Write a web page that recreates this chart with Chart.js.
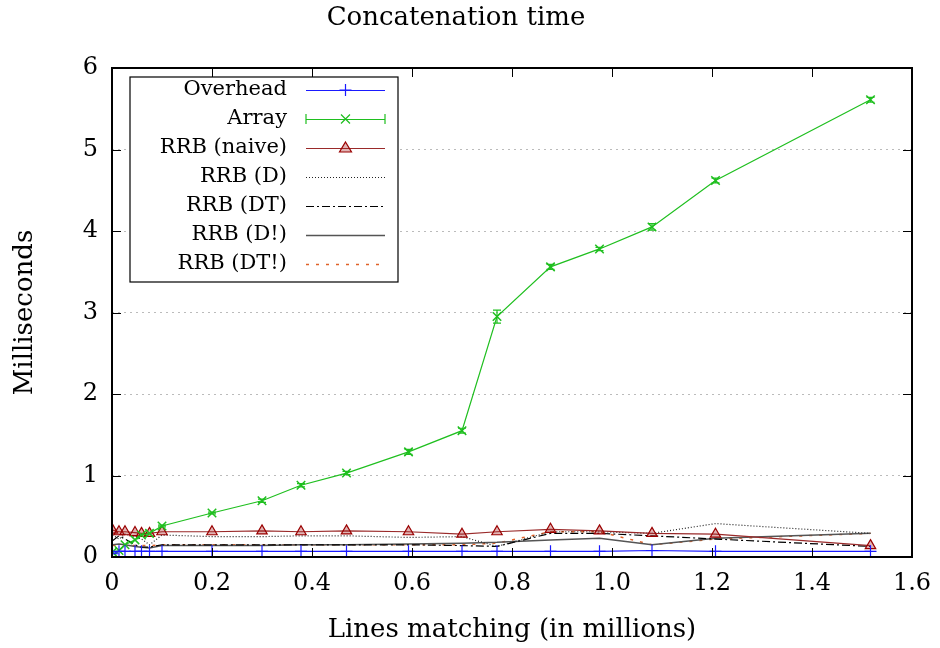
<!DOCTYPE html>
<html>
<head>
<meta charset="utf-8">
<script src="https://cdn.jsdelivr.net/npm/chart.js@4/dist/chart.umd.min.js"></script>
<style>
  html, body { margin: 0; padding: 0; background: #fff; }
</style>
</head>
<body>
<canvas id="chart" width="940" height="648"></canvas>
<script>
// lines matching, in millions
const linesMatching = [0.001, 0.014, 0.026, 0.046, 0.059, 0.075, 0.1, 0.2, 0.3, 0.378, 0.469, 0.593, 0.70, 0.77, 0.877, 0.975, 1.08, 1.207, 1.517];

// milliseconds per series
const overhead = [0.04, 0.07, 0.07, 0.07, 0.07, 0.07, 0.07, 0.07, 0.07, 0.07, 0.07, 0.07, 0.07, 0.07, 0.07, 0.07, 0.08, 0.07, 0.07];
const arrayTime = [0.06, 0.08, 0.15, 0.21, 0.27, 0.29, 0.38, 0.54, 0.69, 0.88, 1.03, 1.29, 1.55, 2.95, 3.56, 3.78, 4.05, 4.62, 5.61];
const arrayErr = [0, 0, 0, 0, 0, 0, 0.01, 0.01, 0.02, 0.02, 0.02, 0.03, 0.03, 0.08, 0.03, 0.02, 0.04, 0.03, 0.03];
const rrbNaive = [0.33, 0.31, 0.31, 0.30, 0.29, 0.29, 0.31, 0.31, 0.32, 0.31, 0.32, 0.31, 0.28, 0.31, 0.34, 0.32, 0.29, 0.28, 0.14];
const rrbD = [0.27, 0.22, 0.28, 0.25, 0.22, 0.15, 0.27, 0.25, 0.25, 0.26, 0.26, 0.24, 0.25, 0.13, 0.31, 0.31, 0.29, 0.41, 0.29];
const rrbDT = [0.20, 0.26, 0.22, 0.15, 0.12, 0.12, 0.15, 0.15, 0.15, 0.15, 0.15, 0.15, 0.14, 0.13, 0.29, 0.29, 0.26, 0.22, 0.13];
const rrbDbang = [0.15, 0.16, 0.15, 0.13, 0.12, 0.11, 0.14, 0.14, 0.14, 0.15, 0.15, 0.16, 0.17, 0.18, 0.21, 0.23, 0.15, 0.23, 0.29];
const rrbDTbang = [0.14, 0.15, 0.15, 0.14, 0.14, 0.14, 0.15, 0.15, 0.15, 0.15, 0.15, 0.15, 0.15, 0.17, 0.31, 0.31, 0.15, 0.22, 0.29];

const xTicks = [0, 0.2, 0.4, 0.6, 0.8, 1, 1.2, 1.4, 1.6];
const yTicks = [0, 1, 2, 3, 4, 5, 6];

const FONT = "'DejaVu Serif', serif";

function pts(ys) {
  return ys.map((y, i) => ({ x: linesMatching[i], y: y }));
}

function series(label, ys, opts) {
  return Object.assign({
    label: label,
    data: pts(ys),
    showLine: true,
    fill: false,
    borderWidth: 1.2,
    pointRadius: 0,
    pointHoverRadius: 0,
    tension: 0,
  }, opts);
}

const datasets = [
  series("Overhead", overhead, { borderColor: "#1a1aff", pointStyle: "cross", pointRadius: 6, pointBorderColor: "#1a1aff", pointBorderWidth: 1.2 }),
  series("Array", arrayTime, { borderColor: "#1fbf1f", pointStyle: "crossRot", pointRadius: 6, pointBorderColor: "#1fbf1f", pointBorderWidth: 1.5, errors: arrayErr }),
  series("RRB (naive)", rrbNaive, { borderColor: "#9a2a2a", pointStyle: "triangle", pointRadius: 6, pointBorderColor: "#9a0000", pointBackgroundColor: "rgba(170,40,40,0.35)", pointBorderWidth: 1.2 }),
  series("RRB (D)", rrbD, { borderColor: "#222", borderDash: [1, 2], borderWidth: 1.2 }),
  series("RRB (DT)", rrbDT, { borderColor: "#000", borderDash: [8, 3, 2, 3], borderWidth: 1.2 }),
  series("RRB (D!)", rrbDbang, { borderColor: "#555", borderWidth: 1.5 }),
  series("RRB (DT!)", rrbDTbang, { borderColor: "#e0632a", borderDash: [3, 7], borderWidth: 1.5 }),
];

// error bars for series that carry an errors array
const errorBars = {
  id: "errorBars",
  afterDatasetsDraw(chart) {
    const ctx = chart.ctx;
    const xs = chart.scales.x, ys = chart.scales.y;
    chart.data.datasets.forEach((ds) => {
      if (!ds.errors) return;
      ctx.save();
      ctx.strokeStyle = ds.borderColor;
      ctx.lineWidth = 1.2;
      ds.data.forEach((p, i) => {
        const e = ds.errors[i];
        if (!e) return;
        const px = xs.getPixelForValue(p.x);
        const y1 = ys.getPixelForValue(p.y - e), y2 = ys.getPixelForValue(p.y + e);
        ctx.beginPath();
        ctx.moveTo(px, y1); ctx.lineTo(px, y2);
        ctx.moveTo(px - 4, y1); ctx.lineTo(px + 4, y1);
        ctx.moveTo(px - 4, y2); ctx.lineTo(px + 4, y2);
        ctx.stroke();
      });
      ctx.restore();
    });
  }
};

// gnuplot style border with inward ticks on all sides
const frame = {
  id: "frame",
  afterDatasetsDraw(chart) {
    const ctx = chart.ctx, a = chart.chartArea;
    const xs = chart.scales.x, ys = chart.scales.y;
    ctx.save();
    ctx.strokeStyle = "#000";
    ctx.lineWidth = 1;
    ctx.beginPath();
    xTicks.forEach((v) => {
      const px = Math.round(xs.getPixelForValue(v)) + 0.5;
      ctx.moveTo(px, a.bottom); ctx.lineTo(px, a.bottom - 9);
      ctx.moveTo(px, a.top); ctx.lineTo(px, a.top + 9);
    });
    yTicks.forEach((v) => {
      const py = Math.round(ys.getPixelForValue(v)) + 0.5;
      ctx.moveTo(a.left, py); ctx.lineTo(a.left + 9, py);
      ctx.moveTo(a.right, py); ctx.lineTo(a.right - 9, py);
    });
    ctx.stroke();
    ctx.lineWidth = 2;
    ctx.strokeRect(a.left, a.top, a.right - a.left, a.bottom - a.top);
    ctx.restore();
  }
};

// legend box: text on the left, sample on the right
const keyBox = {
  id: "keyBox",
  afterDraw(chart) {
    const ctx = chart.ctx, a = chart.chartArea;
    const bx = a.left + 18, by = a.top + 9, bw = 268, bh = 205;
    ctx.save();
    ctx.fillStyle = "#fff";
    ctx.fillRect(bx, by, bw, bh);
    ctx.strokeStyle = "#000";
    ctx.lineWidth = 1.2;
    ctx.strokeRect(bx, by, bw, bh);
    ctx.font = "21px " + FONT;
    ctx.textAlign = "right";
    ctx.textBaseline = "middle";
    chart.data.datasets.forEach((ds, i) => {
      const cy = a.top + 22 + i * 29;
      ctx.fillStyle = "#000";
      ctx.fillText(ds.label, a.left + 175, cy);
      const x1 = a.left + 194, x2 = a.left + 273, xm = (x1 + x2) / 2;
      ctx.strokeStyle = ds.borderColor;
      ctx.lineWidth = ds.borderWidth;
      ctx.setLineDash(ds.borderDash || []);
      ctx.beginPath();
      ctx.moveTo(x1, cy + 0.5); ctx.lineTo(x2, cy + 0.5);
      ctx.stroke();
      ctx.setLineDash([]);
      ctx.beginPath();
      if (ds.errors) {
        ctx.moveTo(x1, cy - 5); ctx.lineTo(x1, cy + 5);
        ctx.moveTo(x2, cy - 5); ctx.lineTo(x2, cy + 5);
      }
      if (ds.pointStyle === "cross") {
        ctx.moveTo(xm - 6, cy); ctx.lineTo(xm + 6, cy);
        ctx.moveTo(xm, cy - 6); ctx.lineTo(xm, cy + 6);
      } else if (ds.pointStyle === "crossRot") {
        ctx.moveTo(xm - 4.5, cy - 4.5); ctx.lineTo(xm + 4.5, cy + 4.5);
        ctx.moveTo(xm - 4.5, cy + 4.5); ctx.lineTo(xm + 4.5, cy - 4.5);
      }
      ctx.stroke();
      if (ds.pointStyle === "triangle") {
        ctx.beginPath();
        ctx.moveTo(xm, cy - 6); ctx.lineTo(xm + 6, cy + 4); ctx.lineTo(xm - 6, cy + 4);
        ctx.closePath();
        ctx.fillStyle = ds.pointBackgroundColor;
        ctx.fill();
        ctx.strokeStyle = ds.pointBorderColor;
        ctx.stroke();
      }
    });
    ctx.restore();
  }
};

new Chart(document.getElementById("chart"), {
  type: "scatter",
  data: { datasets: datasets },
  options: {
    responsive: false,
    animation: false,
    layout: { padding: { left: 0, right: 28, top: 0, bottom: 0 } },
    plugins: {
      legend: { display: false },
      tooltip: { enabled: false },
      title: {
        display: true,
        text: "Concatenation time",
        color: "#000",
        font: { family: FONT, size: 26, weight: "normal" },
        padding: { top: 2.4, bottom: 34.4 },
      },
    },
    scales: {
      x: {
        type: "linear",
        min: 0,
        max: 1.6,
        afterBuildTicks(scale) { scale.ticks = xTicks.map((v) => ({ value: v })); },
        afterFit(scale) {
          scale.height = 91;
          scale.paddingLeft = 0;
          scale.paddingRight = 0;
        },
        grid: { display: false, drawTicks: false },
        border: { display: false },
        ticks: { color: "#000", padding: 12, font: { family: FONT, size: 24 } },
        title: {
          display: true,
          text: "Lines matching (in millions)",
          color: "#000",
          font: { family: FONT, size: 26 },
          padding: { top: 0, bottom: 2.4 },
        },
      },
      y: {
        type: "linear",
        min: 0,
        max: 6,
        afterBuildTicks(scale) { scale.ticks = yTicks.map((v) => ({ value: v })); },
        afterFit(scale) {
          scale.width = 112;
          scale.paddingTop = 0;
          scale.paddingBottom = 0;
        },
        grid: { color: "#bbbbbb", lineWidth: 1, drawTicks: false },
        border: { display: false, dash: [2, 4] },
        ticks: { color: "#000", padding: 14, font: { family: FONT, size: 24 } },
        title: {
          display: true,
          text: "Milliseconds",
          color: "#000",
          font: { family: FONT, size: 26 },
          padding: { top: 9.4, bottom: 0 },
        },
      },
    },
  },
  plugins: [errorBars, frame, keyBox],
});
</script>
</body>
</html>
